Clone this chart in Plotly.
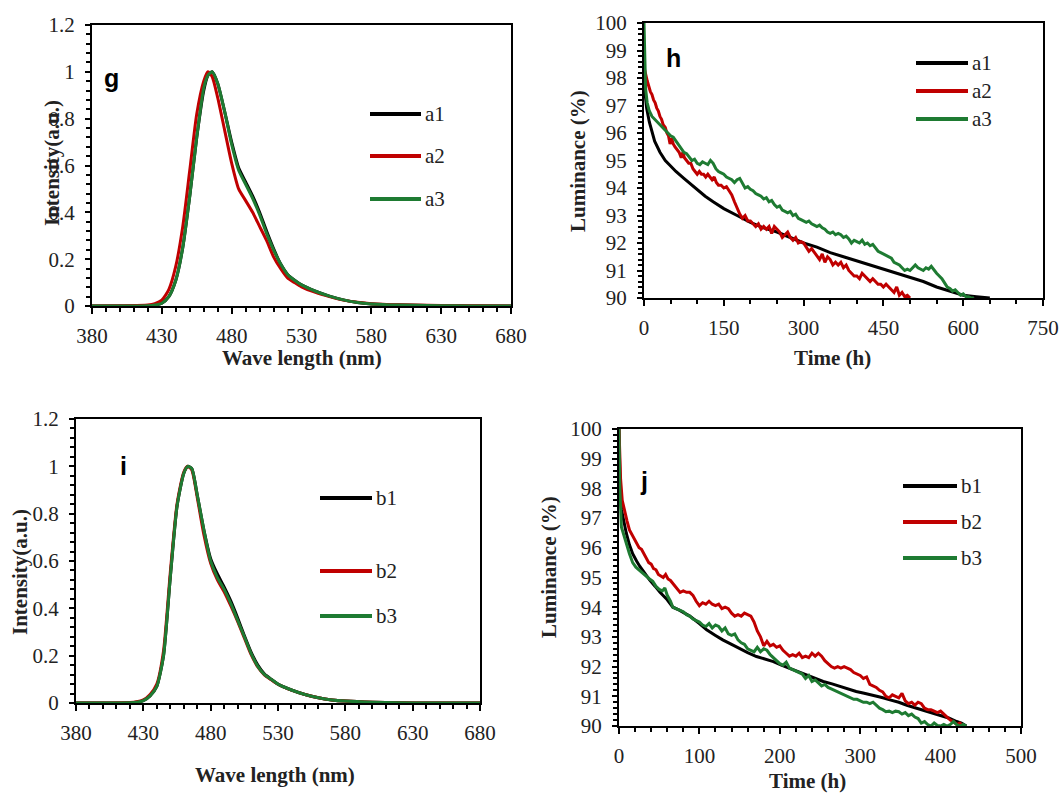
import plotly.graph_objects as go

W, H = 1062, 794

# ---------------- spectra data ----------------
wl = [380, 400, 420, 425, 430, 435, 440, 445, 450, 455, 460, 463, 466, 470, 475, 480, 485, 490,
      495, 500, 505, 510, 515, 520, 525, 530, 540, 550, 560, 570, 580, 600, 620, 640, 660, 680]

g_a1 = [0, 0, 0.001, 0.004, 0.012, 0.04, 0.11, 0.25, 0.47, 0.72, 0.92, 0.985, 1.0, 0.95, 0.83, 0.70,
        0.59, 0.53, 0.47, 0.40, 0.32, 0.245, 0.18, 0.135, 0.11, 0.09, 0.063, 0.042, 0.026, 0.015,
        0.009, 0.004, 0.002, 0.001, 0, 0]
g_a2 = [0, 0.001, 0.004, 0.01, 0.025, 0.07, 0.17, 0.34, 0.58, 0.82, 0.96, 1.0, 0.98, 0.89, 0.75,
        0.61, 0.50, 0.45, 0.40, 0.34, 0.28, 0.21, 0.16, 0.12, 0.10, 0.082, 0.058, 0.04, 0.025,
        0.016, 0.01, 0.005, 0.003, 0.002, 0.001, 0]
g_a3 = [0, 0, 0.001, 0.004, 0.012, 0.04, 0.11, 0.25, 0.47, 0.72, 0.93, 0.985, 1.0, 0.95, 0.83, 0.69,
        0.58, 0.52, 0.46, 0.39, 0.31, 0.24, 0.18, 0.135, 0.11, 0.09, 0.063, 0.042, 0.026, 0.015,
        0.009, 0.004, 0.002, 0.001, 0, 0]

i_b1 = [0, 0, 0.001, 0.003, 0.01, 0.03, 0.07, 0.2, 0.53, 0.83, 0.97, 1.0, 0.99, 0.88, 0.73, 0.61,
        0.545, 0.49, 0.43, 0.36, 0.285, 0.215, 0.16, 0.122, 0.1, 0.08, 0.055, 0.036, 0.022, 0.013,
        0.008, 0.003, 0.001, 0, 0, 0]
i_b2 = [0, 0, 0.002, 0.005, 0.013, 0.036, 0.08, 0.22, 0.55, 0.84, 0.975, 1.0, 0.985, 0.87, 0.71,
        0.59, 0.52, 0.47, 0.41, 0.345, 0.275, 0.205, 0.152, 0.118, 0.098, 0.079, 0.054, 0.036,
        0.022, 0.013, 0.008, 0.003, 0.001, 0, 0, 0]
i_b3 = [0, 0, 0.001, 0.003, 0.01, 0.03, 0.07, 0.2, 0.53, 0.83, 0.97, 1.0, 0.99, 0.88, 0.73, 0.60,
        0.53, 0.48, 0.42, 0.35, 0.28, 0.21, 0.155, 0.12, 0.1, 0.08, 0.055, 0.036, 0.022, 0.013,
        0.008, 0.003, 0.001, 0, 0, 0]

# ---------------- luminance data (h) ----------------
h_a1_t = [0, 2, 5, 10, 15, 20, 30, 40, 50, 60, 75, 90, 100, 115, 130, 150, 175, 200, 225, 250, 275,
          300, 325, 350, 375, 400, 425, 450, 475, 500, 525, 550, 575, 600, 625, 650]
h_a1 = [97.8, 97.4, 96.9, 96.4, 96.0, 95.7, 95.3, 95.0, 94.8, 94.6, 94.35, 94.1, 93.95, 93.7, 93.5,
        93.25, 93.0, 92.75, 92.55, 92.4, 92.2, 92.0, 91.85, 91.65, 91.5, 91.35, 91.2, 91.05, 90.9,
        90.75, 90.6, 90.4, 90.25, 90.1, 90.05, 90.0]

h_a2_t = [0, 3, 6, 9, 12, 15, 18, 21, 24, 27, 30, 33, 36, 40, 43, 46, 49, 52, 55, 58, 62, 66, 70,
          73, 76, 80, 84, 88, 92, 96, 100, 104, 108, 112, 116, 120, 124, 128, 132, 136, 140, 145,
          150, 155, 160, 165, 170, 175, 180, 185, 190, 195, 200, 205, 210, 215, 220, 225, 230, 235,
          240, 245, 250, 255, 260, 265, 270, 275, 280, 285, 290, 295, 300, 305, 310, 315, 320, 325,
          330, 335, 340, 345, 350, 355, 360, 365, 370, 375, 380, 385, 390, 395, 400, 405, 410, 415,
          420, 425, 430, 435, 440, 445, 450, 455, 460, 465, 470, 475, 480, 485, 490, 495, 500]
h_a2 = [98.4, 98.1, 97.9, 97.7, 97.5, 97.4, 97.2, 97.1, 96.9, 96.8, 96.6, 96.5, 96.3, 96.2, 96.0,
        95.9, 95.6, 95.8, 95.6, 95.5, 95.4, 95.3, 95.1, 95.3, 95.1, 95.0, 94.9, 94.9, 94.7, 94.6,
        94.5, 94.6, 94.5, 94.5, 94.4, 94.5, 94.4, 94.3, 94.4, 94.2, 94.1, 94.1, 94.0, 94.05, 93.9,
        93.75, 93.5, 93.25, 93.05, 92.9, 93.0, 92.8, 92.8, 92.7, 92.6, 92.7, 92.5, 92.6, 92.5, 92.6,
        92.35, 92.6, 92.5, 92.4, 92.2, 92.3, 92.4, 92.2, 92.1, 92.2, 92.0, 92.05, 92.0, 91.85, 91.7,
        91.8, 91.65, 91.5, 91.4, 91.6, 91.3, 91.5, 91.4, 91.2, 91.3, 91.2, 91.3, 91.1, 91.2, 91.0,
        90.9, 90.8, 90.8, 90.7, 90.9, 90.8, 90.7, 90.6, 90.7, 90.6, 90.5, 90.5, 90.4, 90.5, 90.4,
        90.3, 90.2, 90.4, 90.1, 90.2, 90.05, 90.1, 90.0]

h_a3_t = [0, 1, 3, 6, 10, 15, 20, 25, 30, 35, 40, 45, 50, 55, 60, 65, 70, 75, 80, 85, 90, 95, 100,
          105, 110, 115, 120, 125, 130, 135, 140, 145, 150, 155, 160, 165, 170, 175, 180, 185, 190,
          195, 200, 205, 210, 215, 220, 225, 230, 235, 240, 245, 250, 255, 260, 265, 270, 275, 280,
          285, 290, 295, 300, 305, 310, 315, 320, 325, 330, 335, 340, 345, 350, 355, 360, 365, 370,
          375, 380, 385, 390, 395, 400, 405, 410, 415, 420, 425, 430, 435, 440, 445, 450, 455, 460,
          465, 470, 475, 480, 485, 490, 495, 500, 505, 510, 515, 520, 525, 530, 535, 540, 545, 550,
          555, 560, 565, 570, 575, 580, 585, 590, 595, 600, 605, 610, 615, 620]
h_a3 = [100.0, 98.6, 97.6, 97.1, 96.8, 96.6, 96.5, 96.4, 96.3, 96.2, 96.1, 96.0, 95.9, 95.85, 95.7,
        95.6, 95.4, 95.3, 95.25, 95.1, 95.0, 95.05, 94.9, 94.85, 94.95, 94.9, 94.85, 95.0, 94.9,
        94.7, 94.6, 94.55, 94.5, 94.4, 94.35, 94.3, 94.2, 94.3, 94.35, 94.2, 94.0, 94.05, 93.95,
        93.9, 93.8, 93.75, 93.7, 93.6, 93.65, 93.5, 93.55, 93.4, 93.3, 93.35, 93.2, 93.15, 93.1,
        93.15, 93.0, 93.05, 92.9, 92.85, 92.8, 92.75, 92.8, 92.7, 92.65, 92.6, 92.65, 92.55, 92.5,
        92.4, 92.35, 92.4, 92.3, 92.35, 92.3, 92.2, 92.25, 92.15, 92.0, 92.1, 92.05, 92.0, 92.1,
        91.95, 92.0, 91.9, 91.95, 91.8, 91.7, 91.65, 91.6, 91.55, 91.5, 91.45, 91.3, 91.25, 91.2,
        91.1, 91.0, 91.05, 91.0, 91.1, 91.2, 91.1, 91.05, 91.0, 91.1, 91.05, 91.15, 91.0, 90.9,
        90.8, 90.7, 90.55, 90.4, 90.35, 90.25, 90.3, 90.2, 90.1, 90.15, 90.05, 90.05, 90.0, 90.0]

# ---------------- luminance data (j) ----------------
j_b1_t = [0, 1, 3, 6, 9, 13, 17, 22, 26, 32, 38, 45, 51, 60, 67, 75, 88, 100, 109, 120, 129, 140,
          150, 160, 171, 182, 192, 202, 212, 222, 233, 244, 254, 265, 275, 285, 295, 305, 316, 327,
          337, 348, 358, 368, 378, 389, 399, 410, 420, 426, 432]
j_b1 = [100.0, 98.5, 97.3, 96.9, 96.5, 96.1, 95.8, 95.55, 95.37, 95.15, 94.92, 94.7, 94.5, 94.25,
        94.0, 93.9, 93.7, 93.45, 93.24, 93.05, 92.9, 92.75, 92.6, 92.47, 92.34, 92.25, 92.17, 92.05,
        91.94, 91.83, 91.72, 91.6, 91.5, 91.42, 91.33, 91.25, 91.16, 91.1, 91.04, 90.96, 90.88,
        90.8, 90.7, 90.62, 90.54, 90.45, 90.37, 90.27, 90.15, 90.1, 90.0]

j_b2_t = [0, 2, 4, 7, 10, 13, 16, 19, 22, 25, 28, 31, 34, 37, 40, 43, 46, 49, 52, 55, 58, 61, 64,
          67, 70, 73, 76, 80, 84, 88, 92, 96, 100, 104, 108, 112, 116, 120, 124, 128, 132, 136, 140,
          144, 148, 152, 156, 160, 164, 168, 172, 176, 180, 184, 188, 192, 196, 200, 204, 208, 212,
          216, 220, 224, 228, 232, 236, 240, 244, 248, 252, 256, 260, 264, 268, 272, 276, 280, 284,
          288, 292, 296, 300, 304, 308, 312, 316, 320, 324, 328, 332, 336, 340, 344, 348, 352, 356,
          360, 364, 368, 372, 376, 380, 384, 388, 392, 396, 400, 404, 408, 412, 416, 420, 424, 428]
j_b2 = [100.0, 98.3, 97.6, 97.2, 96.9, 96.6, 96.45, 96.3, 96.16, 96.0, 95.95, 95.8, 95.6, 95.5,
        95.45, 95.3, 95.26, 95.1, 95.05, 95.0, 95.1, 94.95, 94.9, 94.8, 94.7, 94.6, 94.5, 94.55,
        94.5, 94.5, 94.4, 94.2, 94.05, 94.15, 94.1, 94.2, 94.1, 94.05, 94.1, 93.95, 94.0, 93.95,
        93.8, 93.7, 93.75, 93.7, 93.8, 93.75, 93.7, 93.5, 93.2, 93.0, 92.7, 92.85, 92.7, 92.75,
        92.65, 92.7, 92.55, 92.45, 92.35, 92.4, 92.35, 92.45, 92.3, 92.35, 92.3, 92.45, 92.35,
        92.45, 92.35, 92.2, 92.1, 92.0, 91.95, 92.0, 91.95, 92.0, 91.95, 91.9, 91.8, 91.75, 91.7,
        91.6, 91.65, 91.4, 91.35, 91.3, 91.2, 91.15, 91.0, 90.95, 91.05, 91.0, 90.95, 91.1, 90.85,
        90.75, 90.8, 90.7, 90.8, 90.75, 90.6, 90.55, 90.55, 90.5, 90.45, 90.5, 90.4, 90.3, 90.2,
        90.15, 90.05, 90.1, 90.0]

j_b3_t = [0, 1, 3, 6, 9, 13, 17, 21, 25, 30, 34, 38, 42, 46, 50, 54, 57, 60, 64, 67, 71, 75, 80,
          84, 88, 92, 96, 100, 104, 108, 112, 116, 120, 124, 128, 132, 136, 140, 144, 148, 152, 156,
          160, 164, 168, 172, 176, 180, 184, 188, 192, 196, 200, 204, 208, 212, 216, 220, 224, 228,
          232, 236, 240, 244, 248, 252, 256, 260, 264, 268, 272, 276, 280, 284, 288, 292, 296, 300,
          304, 308, 312, 316, 320, 324, 328, 332, 336, 340, 344, 348, 352, 356, 360, 364, 368, 372,
          376, 380, 384, 388, 392, 396, 400, 404, 408, 412, 416, 420, 424, 428, 432]
j_b3 = [100.0, 98.0, 96.7, 96.4, 96.16, 95.8, 95.5, 95.35, 95.25, 95.15, 95.05, 94.95, 94.87, 94.7,
        94.6, 94.55, 94.65, 94.4, 94.2, 94.0, 93.95, 93.9, 93.85, 93.75, 93.7, 93.6, 93.55, 93.5,
        93.4, 93.35, 93.45, 93.3, 93.4, 93.35, 93.2, 93.3, 93.1, 93.05, 93.1, 92.9, 92.8, 92.75,
        92.6, 92.55, 92.5, 92.65, 92.5, 92.6, 92.55, 92.4, 92.3, 92.2, 92.1, 92.05, 92.15, 91.95,
        91.9, 91.85, 91.8, 91.75, 91.6, 91.7, 91.5, 91.55, 91.45, 91.35, 91.4, 91.3, 91.25, 91.2,
        91.15, 91.1, 91.05, 91.0, 90.95, 90.9, 90.9, 90.85, 90.8, 90.8, 90.75, 90.8, 90.7, 90.6,
        90.55, 90.48, 90.5, 90.45, 90.5, 90.48, 90.4, 90.45, 90.35, 90.4, 90.3, 90.25, 90.1, 90.15,
        90.05, 90.0, 90.1, 90.02, 90.0, 90.05, 90.0, 90.05, 90.15, 90.05, 90.0, 90.05, 90.0]

names_a = ["a1", "a2", "a3"]
names_b = ["b1", "b2", "b3"]
colors = ["#000000", "#c00000", "#1e7b32"]
panel_labels = ["g", "h", "i", "j"]

# ---------------- layout helpers ----------------
def px_x(p):
    return p / W

def px_y(p):
    return 1 - p / H

# panel frames in pixels: (left, right, top, bottom)
frames = {
    "g": (92, 511, 25, 306),
    "h": (644, 1043, 23, 298),
    "i": (76, 480, 419, 703),
    "j": (619, 1021, 429, 726),
}

fig = go.Figure()
LW = 3

def add_series(xs, ys, name, color, ax):
    fig.add_trace(go.Scatter(x=xs, y=ys, mode="lines", name=name,
                             line=dict(color=color, width=LW, shape="spline", smoothing=0.6),
                             xaxis="x" + ax, yaxis="y" + ax, showlegend=False))

for ys, n, c in zip([g_a1, g_a2, g_a3], names_a, colors):
    add_series(wl, ys, n, c, "")
for (xs, ys), n, c in zip([(h_a1_t, h_a1), (h_a2_t, h_a2), (h_a3_t, h_a3)], names_a, colors):
    fig.add_trace(go.Scatter(x=xs, y=ys, mode="lines", name=n, line=dict(color=c, width=LW),
                             xaxis="x2", yaxis="y2", showlegend=False))
for ys, n, c in zip([i_b1, i_b2, i_b3], names_b, colors):
    add_series(wl, ys, n, c, "3")
for (xs, ys), n, c in zip([(j_b1_t, j_b1), (j_b2_t, j_b2), (j_b3_t, j_b3)], names_b, colors):
    fig.add_trace(go.Scatter(x=xs, y=ys, mode="lines", name=n, line=dict(color=c, width=LW),
                             xaxis="x4", yaxis="y4", showlegend=False))

SERIF = "Liberation Serif, Times New Roman, serif"
tickfont = dict(family=SERIF, size=21, color="#222222")

def xaxis(dom, rng, dtick, minor_dtick, anchor):
    return dict(domain=dom, range=rng, dtick=dtick, tick0=rng[0], anchor=anchor,
                showline=True, linecolor="black", linewidth=2, mirror=True,
                ticks="outside", ticklen=6, tickwidth=2, tickcolor="black",
                minor=dict(ticks="outside", dtick=minor_dtick, ticklen=4, tickwidth=1.5,
                           tickcolor="black", showgrid=False),
                showgrid=False, zeroline=False, tickfont=tickfont, ticklabelstandoff=4,
                automargin=False)

def yaxis(dom, rng, dtick, minor_dtick, anchor):
    return dict(domain=dom, range=rng, dtick=dtick, tick0=rng[0], anchor=anchor,
                showline=True, linecolor="black", linewidth=2, mirror=True,
                ticks="outside", ticklen=5, tickwidth=2, tickcolor="black",
                minor=dict(ticks="outside", dtick=minor_dtick, ticklen=4, tickwidth=1.5,
                           tickcolor="black", showgrid=False),
                showgrid=False, zeroline=False, tickfont=tickfont, ticklabelstandoff=6,
                automargin=False)

def dom_x(f):
    return [px_x(f[0]), px_x(f[1])]

def dom_y(f):
    return [px_y(f[3]), px_y(f[2])]

fg, fh, fi, fj = frames["g"], frames["h"], frames["i"], frames["j"]

fig.update_layout(
    width=W, height=H, margin=dict(l=0, r=0, t=0, b=0, pad=0, autoexpand=False),
    paper_bgcolor="white", plot_bgcolor="white", showlegend=False,
    xaxis=xaxis(dom_x(fg), [380, 680], 50, 10, "y"),
    yaxis=yaxis(dom_y(fg), [0, 1.2], 0.2, 0.04, "x"),
    xaxis2=xaxis(dom_x(fh), [0, 750], 150, 50, "y2"),
    yaxis2=yaxis(dom_y(fh), [90, 100], 1, 0.2, "x2"),
    xaxis3=xaxis(dom_x(fi), [380, 680], 50, 10, "y3"),
    yaxis3=yaxis(dom_y(fi), [0, 1.2], 0.2, 0.04, "x3"),
    xaxis4=xaxis(dom_x(fj), [0, 500], 100, 20, "y4"),
    yaxis4=yaxis(dom_y(fj), [90, 100], 1, 0.2, "x4"),
)

annotations = []
shapes = []

title_font = dict(family=SERIF, size=21, color="#222222")

def add_text(x, y, text, font, angle=0, xanchor="center"):
    annotations.append(dict(x=px_x(x), y=px_y(y), xref="paper", yref="paper", text=text,
                            showarrow=False, font=font, textangle=angle,
                            xanchor=xanchor, yanchor="middle"))

# axis titles
add_text(302, 358, "<b>Wave length (nm)</b>", title_font)
add_text(832, 358, "<b>Time (h)</b>", title_font)
add_text(275, 775, "<b>Wave length (nm)</b>", title_font)
add_text(807, 781, "<b>Time (h)</b>", title_font)
add_text(52, 163, "<b>Intensity(a.u.)</b>", title_font, angle=-90)
add_text(578, 161, "<b>Luminance (%)</b>", title_font, angle=-90)
add_text(20, 572, "<b>Intensity(a.u.)</b>", title_font, angle=-90)
add_text(549, 567, "<b>Luminance (%)</b>", title_font, angle=-90)

# panel letters
letter_font = dict(family="Liberation Sans, Arial, sans-serif", size=25, color="black")
for lab, (x, y) in zip(panel_labels, [(111, 78), (673, 58), (123, 466), (644, 481)]):
    add_text(x, y, "<b>" + lab + "</b>", letter_font)

# legends (pixel positions)
legend_font = dict(family=SERIF, size=21, color="#222222")
legends = [
    (names_a, 370, 421, [114, 156, 199]),
    (names_a, 916, 968, [63, 91, 119]),
    (names_b, 320, 372, [498, 571, 616]),
    (names_b, 903, 957, [486, 522, 558]),
]
for names, x0, x1, ys in legends:
    for n, c, y in zip(names, colors, ys):
        shapes.append(dict(type="line", xref="paper", yref="paper", x0=px_x(x0), x1=px_x(x1),
                           y0=px_y(y), y1=px_y(y), line=dict(color=c, width=4)))
        add_text(x1 + 2, y, n, legend_font, xanchor="left")

fig.update_layout(annotations=annotations, shapes=shapes)
fig.write_html("out.html", config={"displayModeBar": False},
               post_script="document.body.style.margin='0';")
